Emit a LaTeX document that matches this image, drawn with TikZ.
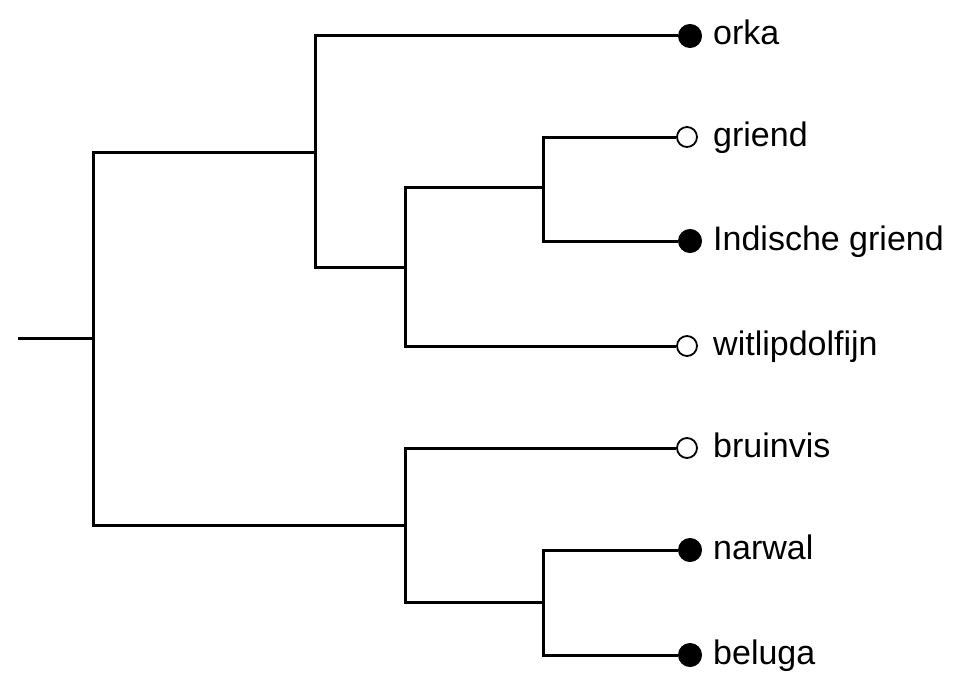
\documentclass[tikz,border=0pt]{standalone}
\usepackage{fontspec}
\setmainfont{Liberation Sans}
\begin{document}
\begin{tikzpicture}[x=1pt,y=-1pt,
  edge/.style={line width=3pt,line join=miter},
  leafon/.style={circle,draw,line width=1pt,fill=black,minimum size=23pt,inner sep=0pt},
  leafoff/.style={circle,draw,line width=1.8pt,fill=white,minimum size=20pt,inner sep=0pt},
  lbl/.style={anchor=base west,inner sep=0pt,font=\fontsize{34}{38}\selectfont}]
\useasboundingbox (0,0) rectangle (965,682);
\coordinate (r) at (18,338);
\coordinate (n0) at (93,338);
\coordinate (n1) at (315,152);
\coordinate (n2) at (405,267);
\coordinate (n3) at (543,187);
\coordinate (n4) at (405,525);
\coordinate (n5) at (543,602);
\node[leafon]  (orka) at (690,36) {};
\node[leafoff] (griend) at (687,137) {};
\node[leafon]  (igriend) at (690,241) {};
\node[leafoff] (witlip) at (687,346) {};
\node[leafoff] (bruinvis) at (687,448) {};
\node[leafon]  (narwal) at (690,550) {};
\node[leafon]  (beluga) at (690,655) {};
\node[lbl] (torka) at (713,45) {orka};
\node[lbl] (tgriend) at (713,146) {griend};
\node[lbl] (tigriend) at (713,250) {Indische griend};
\node[lbl] (twitlip) at (713,355) {witlipdolfijn};
\node[lbl] (tbruinvis) at (713,457) {bruinvis};
\node[lbl] (tnarwal) at (713,559) {narwal};
\node[lbl] (tbeluga) at (713,664) {beluga};
\draw[edge] (r) -- (n0);
\draw[edge] (n0) |- (n1);
\draw[edge] (n0) |- (n4);
\draw[edge] (n1) |- (orka);
\draw[edge] (n1) |- (n2);
\draw[edge] (n2) |- (n3);
\draw[edge] (n2) |- (witlip);
\draw[edge] (n3) |- (griend);
\draw[edge] (n3) |- (igriend);
\draw[edge] (n4) |- (bruinvis);
\draw[edge] (n4) |- (n5);
\draw[edge] (n5) |- (narwal);
\draw[edge] (n5) |- (beluga);
\end{tikzpicture}
\end{document}
